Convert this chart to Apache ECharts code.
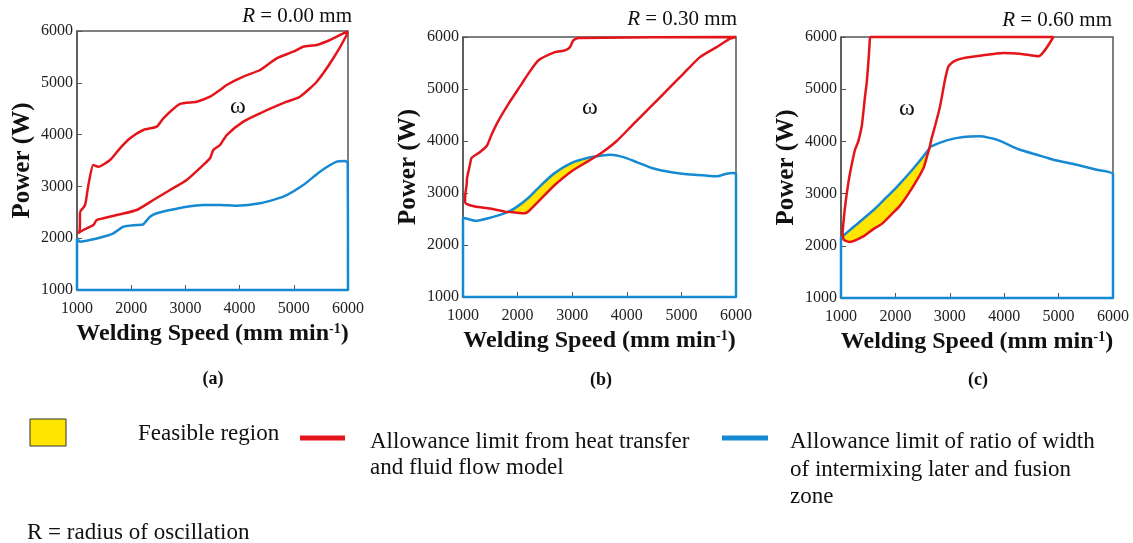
<!DOCTYPE html>
<html><head><meta charset="utf-8">
<script src="https://cdn.jsdelivr.net/npm/echarts@6/dist/echarts.min.js"></script>
<style>html,body{margin:0;padding:0;background:#fff}#c{width:1133px;height:543px}</style>
</head><body><div id="c"></div>
<script>
// ---- data ----
const xTicks = [1000, 2000, 3000, 4000, 5000, 6000];
const yTicks = [1000, 2000, 3000, 4000, 5000, 6000];
const radii = ['0.00', '0.30', '0.60'];
const panelLabels = ['(a)', '(b)', '(c)'];

// (a) R = 0.00 mm
const redA = [[1055,2512],[1148,2641],[1210,3027],[1301,3413],[1393,3380],[1609,3510],[1793,3735],[1978,3929],[2223,4089],[2470,4153],[2593,4315],[2900,4591],[3208,4635],[3454,4732],[3638,4861],[3762,4958],[4068,5118],[4376,5247],[4684,5473],[4991,5600],[5175,5697],[5423,5730],[5668,5826],[5913,5955],[5985,5990],[5976,5923],[5729,5473],[5423,5021],[5114,4732],[4869,4635],[4376,4411],[4068,4250],[3762,3992],[3638,3799],[3515,3703],[3454,3543],[3330,3413],[3024,3124],[2716,2930],[2408,2737],[2101,2544],[1793,2461],[1485,2384],[1363,2351],[1301,2255],[1116,2158],[1020,2095],[1050,2150],[1055,2512]];
const blueA = [[1000,1000],[1000,1998],[1055,1933],[1240,1965],[1485,2029],[1670,2095],[1855,2222],[2101,2255],[2223,2268],[2347,2415],[2470,2481],[2716,2544],[3024,2608],[3330,2641],[3638,2641],[3947,2627],[4376,2674],[4806,2801],[5175,3027],[5483,3284],[5791,3477],[5945,3490],[5995,3450],[6000,1000],[1000,1000]];

// (b) R = 0.30 mm
const redB = [[2196,2642],[2135,2610],[1952,2625],[1769,2642],[1500,2700],[1220,2739],[1060,2790],[1037,2839],[1045,3000],[1067,3161],[1075,3290],[1128,3548],[1159,3677],[1300,3780],[1434,3903],[1526,4129],[1647,4387],[1830,4710],[2075,5098],[2200,5300],[2379,5549],[2685,5710],[2868,5743],[2960,5806],[3020,5936],[3112,5980],[6000,6000],[5890,5968],[5645,5806],[5340,5613],[5035,5292],[4730,4970],[4425,4645],[4119,4323],[3815,4000],[3540,3774],[3295,3613],[2991,3420],[2685,3158],[2441,2900],[2196,2642]];
const blueB = [[1000,1000],[1000,2520],[1037,2516],[1220,2466],[1464,2516],[1769,2613],[1952,2710],[2196,2903],[2441,3162],[2685,3387],[2991,3580],[3295,3677],[3540,3720],[3700,3737],[3940,3690],[4181,3595],[4491,3470],[4791,3403],[5100,3360],[5401,3340],[5645,3320],[5828,3372],[5950,3383],[6000,3370],[6000,1000],[1000,1000]];
const feasibleB = [[1840,2640],[1952,2705],[2196,2900],[2441,3158],[2685,3383],[2991,3575],[3295,3672],[3480,3715],[3295,3618],[2991,3425],[2685,3163],[2441,2905],[2196,2647],[2135,2615],[1952,2630]];

// (c) R = 0.60 mm
const redC = [[1533,6000],[1515,5700],[1502,5500],[1470,5100],[1441,4860],[1410,4550],[1380,4284],[1318,4000],[1257,3840],[1178,3457],[1134,3200],[1090,2880],[1055,2560],[1030,2240],[1045,2130],[1074,2100],[1165,2075],[1410,2180],[1594,2320],[1750,2420],[1900,2575],[2085,2770],[2300,3095],[2513,3480],[2587,3735],[2625,3865],[2660,4033],[2728,4290],[2820,4670],[2912,5180],[2974,5435],[3066,5530],[3250,5595],[3555,5640],[3983,5695],[4290,5680],[4627,5630],[4904,6000],[1533,6000]];
const blueC = [[1000,1000],[1000,2164],[1050,2200],[1228,2360],[1594,2680],[1779,2870],[2024,3125],[2330,3480],[2607,3840],[2636,3893],[2943,4020],[3250,4085],[3555,4097],[3862,4033],[4290,3840],[4600,3745],[4904,3650],[5333,3552],[5700,3457],[6000,3370],[6000,1000],[1000,1000]];
const feasibleC = [[1060,2200],[1228,2365],[1594,2685],[1779,2875],[2024,3130],[2330,3485],[2590,3800],[2560,3700],[2513,3470],[2300,3085],[2085,2760],[1900,2565],[1750,2410],[1594,2310],[1410,2170],[1165,2085],[1080,2110]];

const reds = [redA, redB, redC];
const blues = [blueA, blueB, blueC];
const feasibles = [null, feasibleB, feasibleC];

// ---- styling / layout ----
const RED = '#E3151B', BLUE = '#1689D3', YELLOW = '#FFE500';
const SERIF = '"Liberation Serif","Times New Roman",serif';
const grids = [
  {left: 77, top: 31, width: 271, height: 259},
  {left: 463, top: 37, width: 273, height: 260},
  {left: 841, top: 37, width: 272, height: 261}
];

const option = {
  animation: false,
  backgroundColor: '#fff',
  grid: grids.map(g => Object.assign({show: true, borderColor: '#555', borderWidth: 1.5, backgroundColor: 'transparent'}, g)),
  xAxis: grids.map((g, i) => ({
    gridIndex: i, type: 'value', min: xTicks[0], max: xTicks[xTicks.length - 1], interval: 1000,
    axisLine: {show: true, lineStyle: {color: '#555', width: 1.5}},
    axisTick: {show: true, inside: true, length: 5, lineStyle: {color: '#555'}},
    splitLine: {show: false},
    axisLabel: {fontFamily: SERIF, fontSize: 16, color: '#222', margin: 11, formatter: v => String(v)},
    name: 'Welding Speed (mm min{sup|-1})', nameLocation: 'middle', nameGap: 32,
    nameTextStyle: {fontFamily: SERIF, fontSize: 24, fontWeight: 'bold', color: '#111',
      rich: {sup: {fontFamily: SERIF, fontSize: 14, fontWeight: 'bold', color: '#111', verticalAlign: 'top', padding: [0, 0, 10, 0]}}}
  })),
  yAxis: grids.map((g, i) => ({
    gridIndex: i, type: 'value', min: yTicks[0], max: yTicks[yTicks.length - 1], interval: 1000,
    axisLine: {show: true, lineStyle: {color: '#555', width: 1.5}},
    axisTick: {show: true, inside: true, length: 5, lineStyle: {color: '#555'}},
    splitLine: {show: false},
    axisLabel: {fontFamily: SERIF, fontSize: 16, color: '#222', margin: 4, formatter: v => String(v)},
    name: 'Power (W)', nameLocation: 'middle', nameGap: 42, nameRotate: 90,
    nameTextStyle: {fontFamily: SERIF, fontSize: 25, fontWeight: 'bold', color: '#111'}
  })),
  series: [],
  graphic: []
};

for (let i = 0; i < 3; i++) {
  if (feasibles[i]) {
    const pts = feasibles[i];
    option.series.push({
      type: 'custom', xAxisIndex: i, yAxisIndex: i, data: [0], silent: true, z: 1,
      renderItem: (params, api) => ({
        type: 'polygon',
        shape: {points: pts.map(p => api.coord(p)), smooth: 0.3},
        style: {fill: YELLOW, stroke: null}
      })
    });
  }
  option.series.push({
    type: 'line', xAxisIndex: i, yAxisIndex: i, data: blues[i], showSymbol: false, clip: false, z: 3,
    smooth: 0.2, lineStyle: {color: BLUE, width: 2.5}
  });
  option.series.push({
    type: 'line', xAxisIndex: i, yAxisIndex: i, data: reds[i], showSymbol: false, clip: false, z: 4,
    smooth: 0.2, lineStyle: {color: RED, width: 2.5}
  });
}

// titles, panel labels and omega annotations
const titleRight = [352, 737, 1112];
const titleY = [16, 19, 20];
const labelPos = [[213, 379], [601, 380], [978, 380]];
const omegaPos = [[238, 107], [590, 108], [907, 109]];
for (let i = 0; i < 3; i++) {
  option.graphic.push({type: 'text', x: titleRight[i], y: titleY[i], style: {
    text: '{i|R} = ' + radii[i] + ' mm', align: 'right', verticalAlign: 'middle',
    font: '21px ' + SERIF, fill: '#111', rich: {i: {fontStyle: 'italic', fontSize: 21, fontFamily: SERIF, fill: '#111'}}}});
  option.graphic.push({type: 'text', x: labelPos[i][0], y: labelPos[i][1], style: {
    text: panelLabels[i], align: 'center', verticalAlign: 'middle', font: 'bold 18px ' + SERIF, fill: '#111'}});
  option.graphic.push({type: 'text', x: omegaPos[i][0], y: omegaPos[i][1], style: {
    text: 'ω', align: 'center', verticalAlign: 'middle', font: '24px ' + SERIF, fill: '#111'}});
}

// legend
const LF = '23px ' + SERIF;
option.graphic.push(
  {type: 'rect', shape: {x: 30, y: 419, width: 36, height: 27}, style: {fill: YELLOW, stroke: '#333', lineWidth: 1}},
  {type: 'text', x: 138, y: 434, style: {text: 'Feasible region', font: LF, fill: '#111', verticalAlign: 'middle'}},
  {type: 'line', shape: {x1: 300, y1: 438, x2: 345, y2: 438}, style: {stroke: RED, lineWidth: 5}},
  {type: 'text', x: 370, y: 442, style: {text: 'Allowance limit from heat transfer', font: LF, fill: '#111', verticalAlign: 'middle'}},
  {type: 'text', x: 370, y: 468, style: {text: 'and fluid flow model', font: LF, fill: '#111', verticalAlign: 'middle'}},
  {type: 'line', shape: {x1: 722, y1: 438, x2: 768, y2: 438}, style: {stroke: BLUE, lineWidth: 5}},
  {type: 'text', x: 790, y: 442, style: {text: 'Allowance limit of ratio of width', font: LF, fill: '#111', verticalAlign: 'middle'}},
  {type: 'text', x: 790, y: 470, style: {text: 'of intermixing later and fusion', font: LF, fill: '#111', verticalAlign: 'middle'}},
  {type: 'text', x: 790, y: 497, style: {text: 'zone', font: LF, fill: '#111', verticalAlign: 'middle'}},
  {type: 'text', x: 27, y: 533, style: {text: 'R = radius of oscillation', font: LF, fill: '#111', verticalAlign: 'middle'}}
);

const chart = echarts.init(document.getElementById('c'), null, {renderer: 'canvas'});
chart.setOption(option);
</script></body></html>
